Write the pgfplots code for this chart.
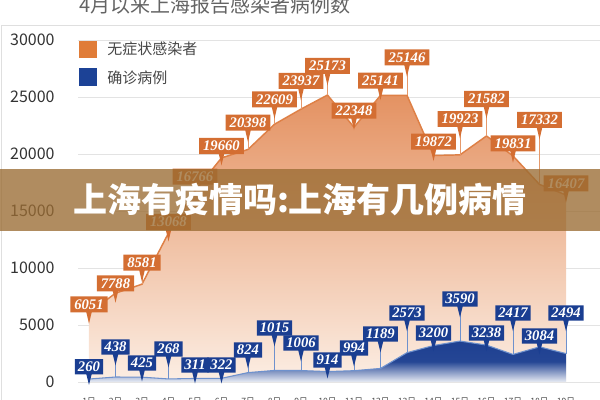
\documentclass[border=0pt]{standalone}
\usepackage{pgfplots}
\pgfplotsset{compat=1.18}
\usepackage{pgfplotstable}
\usepackage{fontspec}
\setmainfont{Noto Sans CJK SC}
\newfontfamily\numfont{Liberation Serif}
\usetikzlibrary{shapes.callouts}

\definecolor{obox}{RGB}{212,110,50}
\definecolor{oline}{RGB}{222,128,70}
\definecolor{otop}{RGB}{228,146,98}
\definecolor{obot}{RGB}{252,238,228}
\definecolor{olegend}{RGB}{224,124,56}
\definecolor{bbox}{RGB}{26,62,145}
\definecolor{bdark}{RGB}{30,64,145}
\definecolor{bline}{RGB}{110,145,205}
\definecolor{blegend}{RGB}{28,66,150}
\definecolor{ttl}{RGB}{100,100,100}
\definecolor{bann}{RGB}{154,108,51}

% x = day index, y = value, ly = height of the label box
\pgfplotstableread{
x  y     ly
0  6051  6816
1  7788  8658
2  8581  10465
3  13068 14035
4  16766 18009
5  19660 20702
6  20398 22746
7  22609 24799
8  23937 26404
9  25173 27720
10 22348 23798
11 25141 26430
12 25146 28483
13 19872 21079
14 19923 23070
15 21582 24825
16 19831 20939
17 17332 22983
18 16407 17430
}\orange

\pgfplotstableread{
x  y     ly
0  260   1342
1  438   3070
2  425   1667
3  268   2895
4  311   1491
5  322   1491
6  824   2807
7  1015  4737
8  1006  3421
9  914   1930
10 994   2982
11 1189  4211
12 2573  6053
13 3200  4298
14 3590  7281
15 3238  4298
16 2417  6053
17 3084  4035
18 2494  6053
}\blue

\begin{document}
\begin{tikzpicture}
\useasboundingbox (0,0) rectangle (450pt,300pt);
\draw[gray!25] (0.75pt,-5pt) rectangle (455pt,281.25pt);

\begin{axis}[
  at={(58.5pt,13.5pt)}, anchor=south west,
  scale only axis, width=391.5pt, height=256.5pt,
  xmin=-0.415, xmax=19.283, ymin=0, ymax=30000,
  axis line style={draw=none},
  major tick length=0pt,
  ytick={0,5000,...,30000},
  scaled y ticks=false,
  xtick={0,...,18},
  xticklabels={1日,2日,3日,4日,5日,6日,7日,8日,9日,10日,11日,12日,13日,14日,15日,16日,17日,18日,19日},
  ymajorgrids, grid style={gray!22, line width=0.6pt},
  yticklabel style={font=\fontsize{12}{12}\selectfont, text=black!80, xshift=-14pt},
  xticklabel style={font=\fontsize{6.5}{6.5}\selectfont, text=black!70, inner sep=0pt, yshift=-12pt},
  /pgf/number format/1000 sep={},
  /pgf/number format/assume math mode=true,
  clip=false,
]

% areas and lines
\addplot[draw=none, top color=otop, bottom color=obot] table[x=x,y=y]{\orange} \closedcycle;
\addplot[oline, line width=1.1pt] table[x=x,y=y]{\orange};
\addplot[draw=none, top color=bdark, bottom color=bdark!10, middle color=bdark!97] table[x=x,y=y]{\blue} \closedcycle;
\addplot[bline, line width=0.8pt] table[x=x,y=y]{\blue};

% value callouts
\addplot[draw=none, point meta=explicit symbolic, nodes near coords, nodes near coords align=center,
  every node near coord/.append style={rectangle callout, callout relative pointer={(0pt,-8.5pt)},
    callout pointer width=4pt, fill=obox, text=white, anchor=center,
    font=\numfont\bfseries\itshape\fontsize{11}{11}\selectfont, inner xsep=3pt, inner ysep=2.3pt},
  error bars/.cd, y dir=minus, y explicit, error mark=none,
  error bar style={draw=oline!80, line width=0.5pt}]
  table[x=x, y=ly, y error minus expr=\thisrow{ly}-\thisrow{y}, meta=y]{\orange};

\addplot[draw=none, point meta=explicit symbolic, nodes near coords, nodes near coords align=center,
  every node near coord/.append style={rectangle callout, callout relative pointer={(0pt,-8pt)},
    callout pointer width=4pt, fill=bbox, text=white, anchor=center,
    font=\numfont\bfseries\itshape\fontsize{11}{11}\selectfont, inner xsep=2.3pt, inner ysep=2pt},
  error bars/.cd, y dir=minus, y explicit, error mark=none,
  error bar style={draw=bline, line width=0.5pt}]
  table[x=x, y=ly, y error minus expr=\thisrow{ly}-\thisrow{y}, meta=y]{\blue};
\end{axis}

% legend
\fill[olegend] (59.25pt,256.5pt) rectangle (72.75pt,269.25pt);
\node[anchor=west, inner sep=0, font=\fontsize{11.25}{11.25}\selectfont, text=black!72] at (80.25pt,263.25pt) {无症状感染者};
\fill[blegend] (59.25pt,235.5pt) rectangle (72.75pt,249pt);
\node[anchor=west, inner sep=0, font=\fontsize{11.25}{11.25}\selectfont, text=black!72] at (80.25pt,241.5pt) {确诊病例};

% title
\node[anchor=base west, inner sep=0, font=\fontsize{15}{15}\selectfont, text=ttl] at (59.5pt,290.5pt) {4月以来上海报告感染者病例数};

% banner
\fill[bann, opacity=0.78] (0,126.75pt) rectangle (450pt,173.25pt);
\node[text=white, font=\bfseries\fontsize{25.5}{25.5}\selectfont] at (225pt,150pt) {上海有疫情吗:上海有几例病情};
\end{tikzpicture}
\end{document}
